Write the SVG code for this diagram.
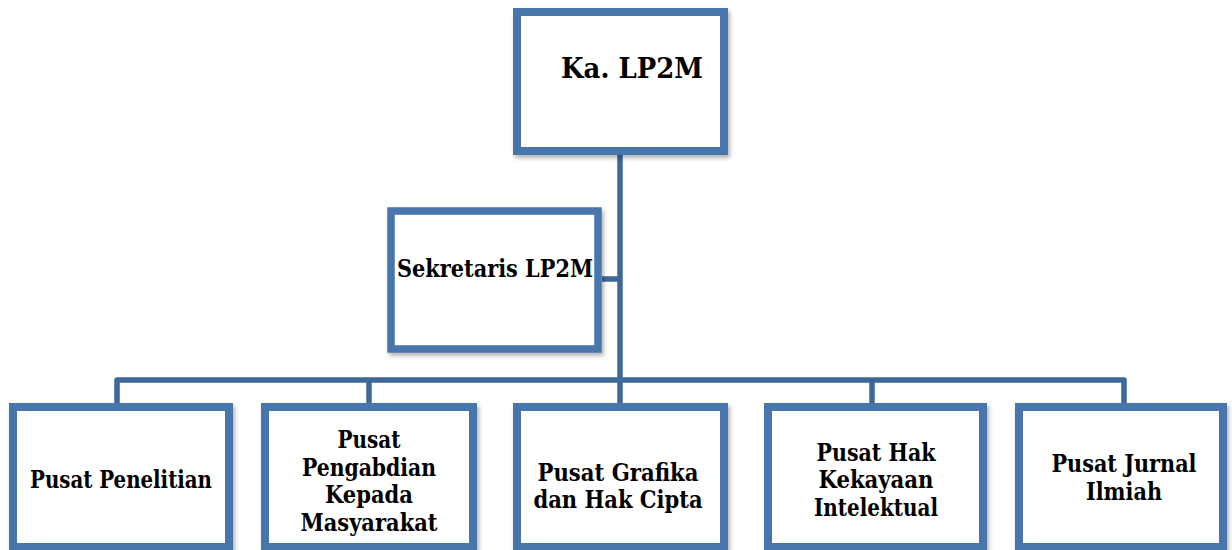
<svg xmlns="http://www.w3.org/2000/svg" width="1232" height="550" viewBox="0 0 1232 550">
  <style>
    .box { fill: #ffffff; stroke: #4a76aa; stroke-width: 8; filter: url(#sh); }
    .conn { fill: none; stroke: #3d6898; stroke-width: 5.5; stroke-linejoin: round; }
    .t { font-family: "DejaVu Serif Condensed", "DejaVu Serif", serif; font-weight: bold; font-size: 24px; fill: #000; text-anchor: middle; }
    .big { font-size: 28.5px; }
  </style>
  <defs>
    <filter id="sh" x="-10%" y="-10%" width="125%" height="125%">
      <feDropShadow dx="2" dy="3" stdDeviation="2" flood-color="#000" flood-opacity="0.3"/>
    </filter>
  </defs>
  <rect width="1232" height="550" fill="#ffffff"/>
  <g id="connectors">
    <path class="conn" d="M620,155 V380"/>
    <path class="conn" d="M602,279 H620"/>
    <path class="conn" d="M117,403 V380 H1124 V403"/>
    <path class="conn" d="M369,380 V403"/>
    <path class="conn" d="M620,380 V403"/>
    <path class="conn" d="M872,380 V403"/>
  </g>
  <g id="ka-lp2m">
    <rect class="box" x="517" y="12" width="207" height="139"/>
    <text class="t big" x="632" y="78" textLength="142" lengthAdjust="spacingAndGlyphs">Ka. LP2M</text>
  </g>
  <g id="sekretaris">
    <rect class="box" x="391" y="211" width="207" height="138" style="stroke-width:7.5"/>
    <text class="t" x="495" y="277" textLength="196" lengthAdjust="spacingAndGlyphs">Sekretaris LP2M</text>
  </g>
  <g id="pusat-penelitian">
    <rect class="box" x="13" y="407" width="216" height="140"/>
    <text class="t" x="121" y="488" textLength="182" lengthAdjust="spacingAndGlyphs">Pusat Penelitian</text>
  </g>
  <g id="pusat-pengabdian">
    <rect class="box" x="265" y="407" width="208" height="140"/>
    <text class="t" x="369" y="448" textLength="63" lengthAdjust="spacingAndGlyphs">Pusat</text>
    <text class="t" x="369" y="476" textLength="134" lengthAdjust="spacingAndGlyphs">Pengabdian</text>
    <text class="t" x="369" y="503" textLength="88" lengthAdjust="spacingAndGlyphs">Kepada</text>
    <text class="t" x="369" y="531" textLength="137" lengthAdjust="spacingAndGlyphs">Masyarakat</text>
  </g>
  <g id="pusat-grafika">
    <rect class="box" x="517" y="407" width="207" height="140"/>
    <text class="t" x="618" y="481" textLength="161" lengthAdjust="spacingAndGlyphs">Pusat Grafika</text>
    <text class="t" x="618" y="508" textLength="169" lengthAdjust="spacingAndGlyphs">dan Hak Cipta</text>
  </g>
  <g id="pusat-hki">
    <rect class="box" x="768" y="407" width="215" height="140"/>
    <text class="t" x="876" y="461" textLength="119" lengthAdjust="spacingAndGlyphs">Pusat Hak</text>
    <text class="t" x="876" y="488" textLength="115" lengthAdjust="spacingAndGlyphs">Kekayaan</text>
    <text class="t" x="876" y="516" textLength="124" lengthAdjust="spacingAndGlyphs">Intelektual</text>
  </g>
  <g id="pusat-jurnal">
    <rect class="box" x="1019" y="407" width="204" height="140"/>
    <text class="t" x="1124" y="472" textLength="145" lengthAdjust="spacingAndGlyphs">Pusat Jurnal</text>
    <text class="t" x="1124" y="500" textLength="76" lengthAdjust="spacingAndGlyphs">Ilmiah</text>
  </g>
</svg>
